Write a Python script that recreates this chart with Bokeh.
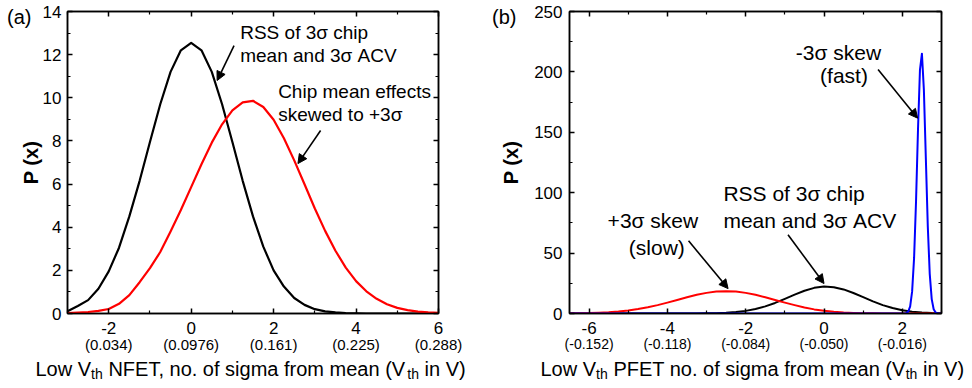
from bokeh.plotting import figure
from bokeh.models import Range1d, FixedTicker, LinearAxis, Label, Arrow, NormalHead
from bokeh.layouts import row, column
from bokeh.core.properties import value
from bokeh.embed import file_html
from bokeh.resources import INLINE

FONT = "Liberation Sans"

# ---------------- data: panel (a) NFET ----------------
a_x = [-3.0, -2.75, -2.5, -2.25, -2.0, -1.75, -1.5, -1.25, -1.0, -0.75, -0.5, -0.25,
       0.0, 0.25, 0.5, 0.75, 1.0, 1.25, 1.5, 1.75, 2.0, 2.25, 2.5, 2.75, 3.0, 3.25,
       3.5, 3.75, 4.0, 4.25, 4.5, 4.75, 5.0, 5.25, 5.5, 5.75, 6.0]
a_rss = [0.1, 0.35, 0.62, 1.15, 1.95, 3.05, 4.5, 6.15, 7.95, 9.7, 11.2, 12.2,
         12.55, 12.2, 11.2, 9.7, 7.95, 6.15, 4.5, 3.1, 2.0, 1.25, 0.72, 0.4, 0.2, 0.1,
         0.05, 0.02, 0.01, 0.0, 0.0, 0.0, 0.0, 0.0, 0.0, 0.0, 0.0]
a_skew = [0.02, 0.04, 0.07, 0.12, 0.21, 0.45, 0.85, 1.45, 2.1, 2.85, 3.8, 4.8,
          5.86, 6.92, 7.92, 8.77, 9.42, 9.79, 9.86, 9.57, 8.98, 8.12, 7.10, 5.99, 4.87, 3.83,
          2.91, 2.13, 1.50, 1.03, 0.68, 0.43, 0.26, 0.16, 0.09, 0.05, 0.03]
a_xticks = [-2, 0, 2, 4, 6]
a_xlabels = ["-2", "0", "2", "4", "6"]
a_xminor = [-3, -1, 1, 3, 5]
a_vlabels = ["(0.034)", "(0.0976)", "(0.161)", "(0.225)", "(0.288)"]
a_yticks = [0, 2, 4, 6, 8, 10, 12, 14]
a_yminor = [1, 3, 5, 7, 9, 11, 13]

# ---------------- data: panel (b) PFET ----------------
b_x = [-6.5, -6.25, -6.0, -5.75, -5.5, -5.25, -5.0, -4.75, -4.5, -4.25, -4.0, -3.75,
       -3.5, -3.25, -3.0, -2.75, -2.5, -2.25, -2.0, -1.75, -1.5, -1.25, -1.0, -0.75,
       -0.5, -0.25, 0.0, 0.25, 0.5, 0.75, 1.0, 1.25, 1.5, 1.75, 2.0, 2.25, 2.5, 2.75, 3.0]
b_rss = [0.0, 0.0, 0.0, 0.0, 0.0, 0.0, 0.0, 0.0, 0.0, 0.0, 0.0, 0.01,
         0.02, 0.05, 0.13, 0.29, 0.61, 1.19, 2.17, 3.70, 5.89, 8.74, 12.11, 15.64,
         18.86, 21.22, 22.27, 21.81, 19.93, 17.00, 13.53, 10.04, 6.96, 4.50, 2.71, 1.53, 0.80, 0.39, 0.18]
b_slow = [0.11, 0.21, 0.37, 0.63, 1.04, 1.64, 2.50, 3.66, 5.14, 6.94, 9.01, 11.22,
          13.43, 15.45, 17.08, 18.13, 18.5, 18.13, 17.08, 15.45, 13.43, 11.22, 9.01, 6.94,
          5.0, 3.4, 2.2, 1.4, 0.85, 0.5, 0.3, 0.17, 0.09, 0.05, 0.03, 0.01, 0.0, 0.0, 0.0]
b_fx = [-6.5, 2.05, 2.10, 2.15, 2.20, 2.25, 2.30, 2.35, 2.40, 2.45, 2.50, 2.55, 2.60,
        2.65, 2.70, 2.75, 2.80, 2.85, 2.90, 2.95, 3.0]
b_fast = [0.0, 0.0, 0.32, 1.52, 5.87, 18.3, 46.0, 93.2, 152.6, 201.7, 215.1, 185.1, 128.6,
          72.1, 32.6, 11.9, 3.5, 0.83, 0.16, 0.0, 0.0]
b_xticks = [-6, -4, -2, 0, 2]
b_xlabels = ["-6", "-4", "-2", "0", "2"]
b_xminor = [-5, -3, -1, 1, 3]
b_vlabels = ["(-0.152)", "(-0.118)", "(-0.084)", "(-0.050)", "(-0.016)"]
b_yticks = [0, 50, 100, 150, 200, 250]
b_yminor = [25, 75, 125, 175, 225]

PH = 357           # panel height
CH = 30            # caption strip height
TOP, BOTTOM = 11, 44


def style_axis(ax):
    ax.axis_line_color = "black"
    ax.axis_line_width = 1.5
    ax.major_tick_in = 5
    ax.major_tick_out = 0
    ax.minor_tick_in = 3
    ax.minor_tick_out = 0
    ax.major_tick_line_color = "black"
    ax.minor_tick_line_color = "black"
    ax.major_tick_line_width = 1.5
    ax.minor_tick_line_width = 1.2
    ax.major_label_text_font = FONT
    ax.major_label_text_font_size = "17px"
    ax.major_label_text_color = "black"


def bare_axis(ax):
    ax.axis_line_color = None
    ax.major_tick_line_color = None
    ax.minor_tick_line_color = None
    ax.major_label_text_font = FONT
    ax.major_label_text_color = "black"


def panel(width, left, right, xr, yr, xt, xl, xm, yt, ym, vlabels, vsize, ystandoff,
          tag, tag_y, tag_standoff, lab_standoff):
    p = figure(width=width, height=PH, x_range=Range1d(*xr), y_range=Range1d(*yr),
               output_backend="svg", toolbar_location=None,
               min_border_left=left, min_border_right=right,
               min_border_top=TOP, min_border_bottom=BOTTOM)
    p.xgrid.visible = False
    p.ygrid.visible = False
    p.outline_line_color = "black"
    p.outline_line_width = 1.5

    p.xaxis.ticker = FixedTicker(ticks=xt, minor_ticks=xm)
    p.xaxis.major_label_overrides = {t: s for t, s in zip(xt, xl)}
    p.yaxis.ticker = FixedTicker(ticks=yt, minor_ticks=ym)
    for ax in p.xaxis + p.yaxis:
        style_axis(ax)
    p.xaxis.major_label_standoff = 8
    p.yaxis.major_label_standoff = ystandoff

    # second row of x labels (threshold voltage values)
    sub = LinearAxis(ticker=FixedTicker(ticks=xt),
                     major_label_overrides={t: s for t, s in zip(xt, vlabels)})
    bare_axis(sub)
    sub.major_label_standoff = -7
    sub.major_label_text_font_size = vsize
    p.add_layout(sub, "below")

    # panel tag "(a)"/"(b)" and the y title, carried by an outer left axis
    tg = LinearAxis(ticker=FixedTicker(ticks=[tag_y]), major_label_overrides={tag_y: tag})
    bare_axis(tg)
    tg.major_label_standoff = tag_standoff
    tg.major_label_text_font_size = "20px"
    tg.axis_label = "P (x)"
    tg.axis_label_text_font = FONT
    tg.axis_label_text_font_size = "20px"
    tg.axis_label_text_font_style = "bold"
    tg.axis_label_text_color = "black"
    tg.axis_label_standoff = lab_standoff
    p.add_layout(tg, "left")

    # mirror ticks on top and right
    top = LinearAxis(ticker=FixedTicker(ticks=xt, minor_ticks=xm),
                     major_label_overrides={t: "" for t in xt})
    rgt = LinearAxis(ticker=FixedTicker(ticks=yt, minor_ticks=ym),
                     major_label_overrides={t: "" for t in yt})
    for ax in (top, rgt):
        style_axis(ax)
        ax.major_label_text_font_size = "1px"
        ax.major_label_standoff = 0
    p.add_layout(top, "above")
    p.add_layout(rgt, "right")
    return p


def lbl(p, x, y, text, size, align="left"):
    p.add_layout(Label(x=x, y=y, text=text, text_font=FONT, text_font_size=size,
                       text_align=align, text_baseline="middle", text_color="black"))


def arrow(p, xs, ys, xe, ye):
    p.add_layout(Arrow(end=NormalHead(size=9, fill_color="black", line_color="black", line_width=1),
                       x_start=xs, y_start=ys, x_end=xe, y_end=ye,
                       line_color="black", line_width=1.6))


# ---------------- panel (a) ----------------
AW, AL, AR = 488, 67, 50
pa = panel(AW, AL, AR, (-3, 6), (0, 14), a_xticks, a_xlabels, a_xminor, a_yticks, a_yminor,
           a_vlabels, "15px", 6, "(a)", 13.74, 2, -38)
pa.line(a_x, a_rss, line_color="black", line_width=2.2, line_join="round")
pa.line(a_x, a_skew, line_color="#ff0000", line_width=2.2, line_join="round")
lbl(pa, 1.19, 13.04, "RSS of 3σ chip", "19px")
lbl(pa, 1.19, 11.94, "mean and 3σ ACV", "19px")
lbl(pa, 2.11, 10.29, "Chip mean effects", "19px")
lbl(pa, 2.11, 9.23, "skewed to +3σ", "19px")
arrow(pa, 1.04, 12.42, 0.63, 10.80)
arrow(pa, 3.14, 8.48, 2.59, 6.95)

# ---------------- panel (b) ----------------
BW, BL, BR = 482, 81, 29
pb = panel(BW, BL, BR, (-6.5, 3), (0, 250), b_xticks, b_xlabels, b_xminor, b_yticks, b_yminor,
           b_vlabels, "14px", 7, "(b)", 245.4, 9, -33)
pb.line(b_x, b_rss, line_color="black", line_width=2.0, line_join="round")
pb.line(b_x, b_slow, line_color="#ff0000", line_width=2.0, line_join="round")
pb.line(b_fx, b_fast, line_color="#0000ff", line_width=2.0, line_join="round")
lbl(pb, 0.37, 216, "-3σ skew", "21px", "center")
lbl(pb, 0.51, 196.8, "(fast)", "21px", "center")
lbl(pb, -2.57, 99, "RSS of 3σ chip", "21px")
lbl(pb, -2.57, 76.7, "mean and 3σ ACV", "21px")
lbl(pb, -4.37, 76.7, "+3σ skew", "21px", "center")
lbl(pb, -4.27, 54.5, "(slow)", "21px", "center")
arrow(pb, 1.38, 202, 2.39, 161.7)
arrow(pb, -0.92, 65.2, 0.0, 24.8)
arrow(pb, -3.46, 60.2, -2.45, 20.6)

# ---------------- x titles (with subscripts) in a caption strip ----------------
CW = AW + BW
cap = figure(width=CW, height=CH, x_range=Range1d(0, CW), y_range=Range1d(0, CH),
             output_backend="svg", toolbar_location=None,
             x_axis_location=None, y_axis_location=None,
             min_border=0, min_border_left=0, min_border_right=0,
             min_border_top=0, min_border_bottom=0)
cap.xgrid.visible = False
cap.ygrid.visible = False
cap.outline_line_color = None

MAIN_Y, SUB_Y = 19, 14
main_txt = ["Low V", "NFET, no. of sigma from mean (V", "in V)",
            "Low V", "PFET no. of sigma from mean (V", "in V)"]
main_px = [35, 107.9, 424.1, 540, 612.9, 922.5]
sub_txt = ["th", "th", "th", "th"]
sub_px = [90.6, 406.8, 595.6, 905.2]
cap.text(x=main_px, y=[MAIN_Y] * len(main_px), text=main_txt,
         text_font=value(FONT), text_font_size="20px", text_align="left",
         text_baseline="middle", text_color="black")
cap.text(x=sub_px, y=[SUB_Y] * len(sub_px), text=sub_txt,
         text_font=value(FONT), text_font_size="14px", text_align="left",
         text_baseline="middle", text_color="black")

layout = column(row(pa, pb), cap)
open("out.html", "w").write(file_html(layout, INLINE))
